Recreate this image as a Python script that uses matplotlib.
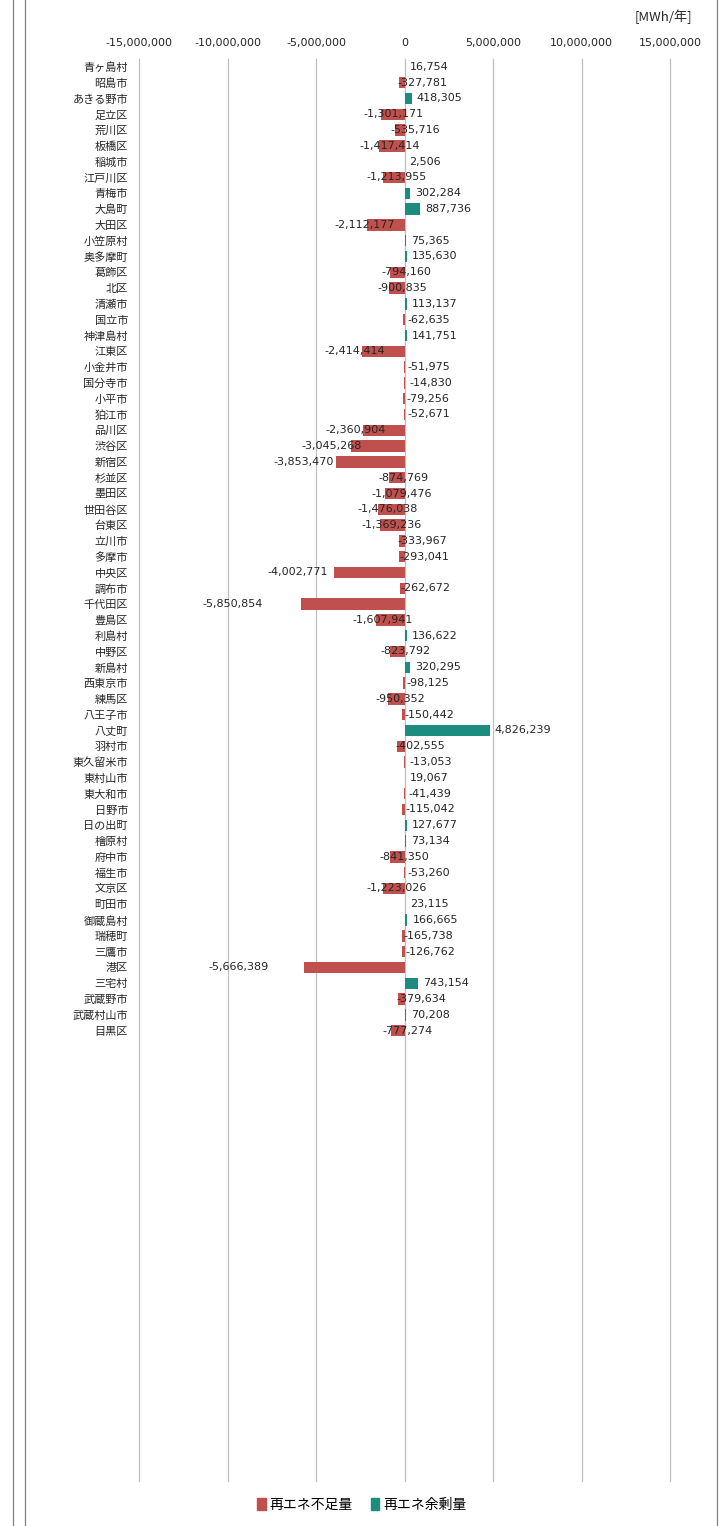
import numpy as np
import matplotlib.pyplot as plt
from matplotlib.patches import Patch
from matplotlib.lines import Line2D

plt.rcParams['font.family'] = ['Noto Sans CJK JP', 'DejaVu Sans']

# 市区町村ごとの再エネ過不足量 [MWh/年]
areas = ['青ヶ島村', '昭島市', 'あきる野市', '足立区', '荒川区', '板橋区', '稲城市', '江戸川区',
         '青梅市', '大島町', '大田区', '小笠原村', '奥多摩町', '葛飾区', '北区', '清瀬市',
         '国立市', '神津島村', '江東区', '小金井市', '国分寺市', '小平市', '狛江市', '品川区',
         '渋谷区', '新宿区', '杉並区', '墨田区', '世田谷区', '台東区', '立川市', '多摩市',
         '中央区', '調布市', '千代田区', '豊島区', '利島村', '中野区', '新島村', '西東京市',
         '練馬区', '八王子市', '八丈町', '羽村市', '東久留米市', '東村山市', '東大和市', '日野市',
         '日の出町', '檜原村', '府中市', '福生市', '文京区', '町田市', '御蔵島村', '瑞穂町',
         '三鷹市', '港区', '三宅村', '武蔵野市', '武蔵村山市', '目黒区']
values = [16754, -327781, 418305, -1301171, -535716, -1417414, 2506, -1213955,
          302284, 887736, -2112177, 75365, 135630, -794160, -900835, 113137,
          -62635, 141751, -2414414, -51975, -14830, -79256, -52671, -2360904,
          -3045268, -3853470, -874769, -1079476, -1476038, -1369236, -333967, -293041,
          -4002771, -262672, -5850854, -1607941, 136622, -823792, 320295, -98125,
          -950352, -150442, 4826239, -402555, -13053, 19067, -41439, -115042,
          127677, 73134, -841350, -53260, -1223026, 23115, 166665, -165738,
          -126762, -5666389, 743154, -379634, 70208, -777274]
x_ticks = [-15000000, -10000000, -5000000, 0, 5000000, 10000000, 15000000]
n_slots = 90

vals = np.array(values)
shortage = np.where(vals < 0, vals, 0)
surplus = np.where(vals > 0, vals, 0)
red = '#C0504D'
teal = '#1B8C7F'

fig = plt.figure(figsize=(7.19, 15.26), dpi=100)
ax = fig.add_axes([139 / 719, 1 - 1481 / 1526, (670 - 139) / 719, (1481 - 59) / 1526])

y = np.arange(len(areas))
ax.barh(y, shortage, height=0.72, color=red, zorder=3)
ax.barh(y, surplus, height=0.72, color=teal, zorder=3)

# データラベル（負の値は元の図と同じくずれた位置に置く）
for i, v in enumerate(values):
    if v >= 0:
        xpos = v
    else:
        xpos = 2 * v
    ax.annotate(f'{v:,}', xy=(xpos, i), xytext=(5, 0), textcoords='offset pixels',
                ha='left', va='center', fontsize=8, family='DejaVu Sans',
                color='#262626', zorder=4)

ax.set_xlim(x_ticks[0], x_ticks[-1])
ax.set_ylim(n_slots - 0.5, -0.5)
ax.set_xticks(x_ticks)
ax.set_xticklabels([f'{t:,}' for t in x_ticks], family='DejaVu Sans', fontsize=8, color='#262626')
ax.xaxis.tick_top()
ax.tick_params(axis='x', length=0, pad=8)
ax.set_yticks(y)
ax.set_yticklabels(areas, fontsize=8, color='#262626')
ax.tick_params(axis='y', length=0, pad=8)
ax.grid(axis='x', color='#BFBFBF', linewidth=0.9, zorder=0)
for gl in ax.get_xgridlines():
    gl.set_clip_on(False)
for s in ax.spines.values():
    s.set_visible(False)

fig.text(692 / 719, 1 - 17 / 1526, '[MWh/年]', ha='right', va='center', fontsize=9.5, color='#262626')

handles = [Patch(color=red, label='再エネ不足量'), Patch(color=teal, label='再エネ余剰量')]
fig.legend(handles=handles, loc='center', bbox_to_anchor=(362 / 719, 1 - 1505 / 1526), ncol=2,
           frameon=False, fontsize=10, handlelength=0.6, handleheight=0.9,
           handletextpad=0.3, columnspacing=1.3)

for xp in [13, 25, 717]:
    fig.add_artist(Line2D([xp / 719, xp / 719], [0, 1], transform=fig.transFigure,
                          color='#808080', linewidth=0.9))

fig.savefig('out.png', dpi=100)
